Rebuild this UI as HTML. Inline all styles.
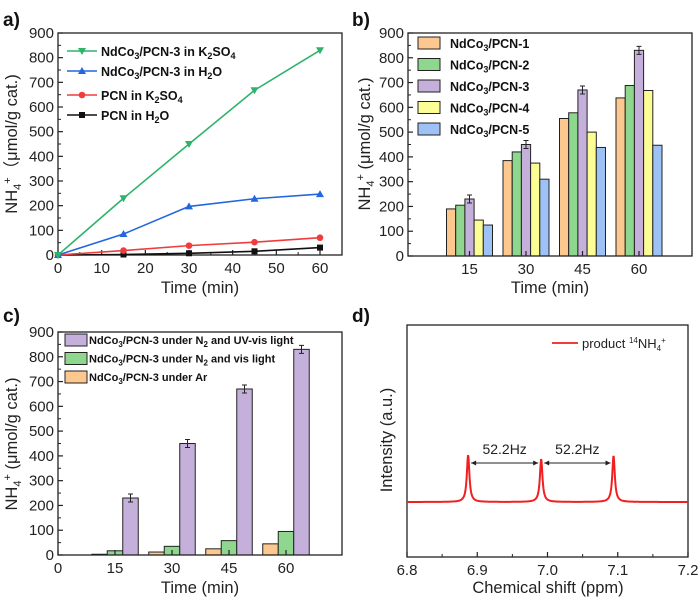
<!DOCTYPE html>
<html><head><meta charset="utf-8">
<style>
body{margin:0;background:#fff;}
svg{display:block;font-family:"Liberation Sans",Arial,sans-serif;}
.tk{font-size:15px;fill:#222;}
.tt{font-size:16.5px;fill:#222;}
.pl{font-size:19px;font-weight:bold;fill:#111;}
.lg{font-size:12.5px;font-weight:bold;fill:#111;}
</style></head>
<body>
<svg id="fig" width="700" height="605" viewBox="0 0 700 605" xmlns="http://www.w3.org/2000/svg"></svg>
<script>
// Panel a data
const aTimes=[0,15,30,45,60];
const aK2SO4Nd=[0,230,450,668,830];
const aH2ONd=[0,85,197,228,247];
const aK2SO4PCN=[0,18,38,52,70];
const aH2OPCN=[0,2,7,15,30];
const yTicks=[0,100,200,300,400,500,600,700,800,900];
const aXTicks=[0,10,20,30,40,50,60];
// Panel b data
const bCats=[15,30,45,60];
const bPCN1=[190,385,555,638];
const bPCN2=[205,420,578,688];
const bPCN3=[230,450,670,830];
const bPCN4=[145,375,500,668];
const bPCN5=[125,310,438,447];
// Panel c data
const cCats=[15,30,45,60];
const cAr=[3,12,25,45];
const cVis=[17,35,58,95];
const cUV=[230,450,670,830];
const cXTicks=[0,15,30,45,60];
// Panel d data
const dPeaks=[6.887,6.991,7.094];
const dHeights=[47,43,46];
const dBaseline=0;
const dXTicks=[6.8,6.9,7.0,7.1,7.2];

const S=document.getElementById('fig');
const NS='http://www.w3.org/2000/svg';
function E(tag,at,parent,txt){const e=document.createElementNS(NS,tag);for(const k in at)e.setAttribute(k,at[k]);if(txt!==undefined)e.innerHTML=txt;(parent||S).appendChild(e);return e;}

function frame(x0,y0,x1,y1,name){
  const r=E('rect',{x:x0,y:y0,width:x1-x0,height:y1-y0,fill:'none',stroke:'#222','stroke-width':1.3});
  
  
}
function yAxis(x0,sy,ticks,name){
  const g=E('g',{});
  
  
  ticks.forEach((v,i)=>{const y=sy(v);
    E('line',{x1:x0,x2:x0+5,y1:y,y2:y,stroke:'#222','stroke-width':1.2},g);
    E('text',{x:x0-4,y:y+5,'text-anchor':'end',class:'tk'},g,v);
    if(i<ticks.length-1){const ym=sy(v+50);E('line',{x1:x0,x2:x0+3,y1:ym,y2:ym,stroke:'#222'},g);}
  });
}
function xAxis(y0,sx,ticks,name,minor,fmt){
  const g=E('g',{});
  
  
  ticks.forEach((v,i)=>{const x=sx(v);
    E('line',{x1:x,x2:x,y1:y0,y2:y0-5,stroke:'#222','stroke-width':1.2},g);
    E('text',{x:x,y:y0+18,'text-anchor':'middle',class:'tk'},g,fmt?fmt(v):v);
    if(minor&&i<ticks.length-1){const xm=sx(v+minor);E('line',{x1:xm,x2:xm,y1:y0,y2:y0-3,stroke:'#222'},g);}
  });
}
function label(x,y,t,name){const e=E('text',{x:x,y:y,class:'pl'},S,t);}
function ytitle(x,y,html,name){const e=E('text',{x:x,y:y,class:'tt','text-anchor':'middle',transform:`rotate(-90 ${x} ${y})`},S,html);}
function xtitle(x,y,t,name){const e=E('text',{x:x,y:y,class:'tt','text-anchor':'middle'},S,t);}
const NH='NH<tspan font-size="11" dy="4">4</tspan><tspan font-size="11" dy="-10">+</tspan><tspan dy="6">';

// ===== Panel a =====
{
const sx=v=>58+v*(262/60), sy=v=>255-v*(222/900);
frame(58,33,342,255,'panel-a-plot-area');
yAxis(58,sy,yTicks,'panel-a-y-axis');
xAxis(255,sx,aXTicks,'panel-a-x-axis',5);
label(3,26,'a)','panel-a-label');
ytitle(17,144,NH+'（μmol/g cat.)</tspan>','panel-a-y-axis-title');
xtitle(200,293,'Time (min)','panel-a-x-axis-title');
const series=[[aH2OPCN,'#111','sq','PCN in H<tspan font-size="9" dy="3">2</tspan><tspan dy="-3">O</tspan>'],
 [aK2SO4PCN,'#f03c3c','ci','PCN in K<tspan font-size="9" dy="3">2</tspan><tspan dy="-3">SO</tspan><tspan font-size="9" dy="3">4</tspan>'],
 [aH2ONd,'#2266e0','up','NdCo<tspan font-size="9" dy="3">3</tspan><tspan dy="-3">/PCN-3 in H</tspan><tspan font-size="9" dy="3">2</tspan><tspan dy="-3">O</tspan>'],
 [aK2SO4Nd,'#2db36a','dn','NdCo<tspan font-size="9" dy="3">3</tspan><tspan dy="-3">/PCN-3 in K</tspan><tspan font-size="9" dy="3">2</tspan><tspan dy="-3">SO</tspan><tspan font-size="9" dy="3">4</tspan>']];
const names=['series-pcn-h2o','series-pcn-k2so4','series-ndco3-h2o','series-ndco3-k2so4'];
function mk(g,t,x,y,c){
  if(t==='sq')E('rect',{x:x-3,y:y-3,width:6,height:6,fill:c},g);
  else if(t==='ci')E('circle',{cx:x,cy:y,r:3.3,fill:c},g);
  else if(t==='up')E('polygon',{points:`${x},${y-4} ${x-4},${y+3} ${x+4},${y+3}`,fill:c},g);
  else E('polygon',{points:`${x},${y+4} ${x-4},${y-3} ${x+4},${y-3}`,fill:c},g);
}
const legY=[115,95,71,51];
series.forEach((s,k)=>{
  const g=E('g',{});
  
  
  E('polyline',{points:aTimes.map((t,i)=>sx(t)+','+sy(s[0][i])).join(' '),fill:'none',stroke:s[1],'stroke-width':1.6},g);
  aTimes.forEach((t,i)=>mk(g,s[2],sx(t),sy(s[0][i]),s[1]));
  const lg=E('g',{});
  
  
  E('line',{x1:67,x2:97,y1:legY[k],y2:legY[k],stroke:s[1],'stroke-width':1.6},lg);
  mk(lg,s[2],82,legY[k],s[1]);
  E('text',{x:101,y:legY[k]+5,class:'lg'},lg,s[3]);
});
}

// ===== Panel b =====
{
const sx=v=>413+v*(56.5/15), sy=v=>256-v*(223/900);
const bw=9.2;
const cols=['#fdc88f','#8fd68f','#c5b0dc','#fdfd96','#9ec2f5'];
const data=[bPCN1,bPCN2,bPCN3,bPCN4,bPCN5];
const labs=['/PCN-1','/PCN-2','/PCN-3','/PCN-4','/PCN-5'];
bCats.forEach((c,i)=>{
  data.forEach((d,k)=>{
    const x=sx(c)-2.5*bw+k*bw, y=sy(d[i]);
    const r=E('rect',{x:x,y:y,width:bw,height:sy(0)-y,fill:cols[k],stroke:'#222','stroke-width':1});
    
    
    if(k===2){const xm=x+bw/2;E('path',{d:`M${xm},${y-4}V${y+4}M${xm-2.5},${y-4}H${xm+2.5}M${xm-2.5},${y+4}H${xm+2.5}`,stroke:'#222','stroke-width':1});}
  });
});
frame(408,33,692,256,'panel-b-plot-area');
yAxis(408,sy,yTicks,'panel-b-y-axis');
const g=E('g',{});
bCats.forEach(c=>{E('line',{x1:sx(c),x2:sx(c),y1:256,y2:251,stroke:'#222','stroke-width':1.2},g);E('text',{x:sx(c),y:274,'text-anchor':'middle',class:'tk'},g,c);});
label(352,26,'b)','panel-b-label');
ytitle(370,144,NH+' (μmol/g cat.)</tspan>','panel-b-y-axis-title');
xtitle(550,293,'Time (min)','panel-b-x-axis-title');
labs.forEach((l,k)=>{
  const y=43+k*21.5;
  const lg=E('g',{});
  
  
  E('rect',{x:418,y:y-6,width:22,height:12,fill:cols[k],stroke:'#222'},lg);
  E('text',{x:450,y:y+5,class:'lg'},lg,'NdCo<tspan font-size="9" dy="3">3</tspan><tspan dy="-3">'+l+'</tspan>');
});
}

// ===== Panel c =====
{
const sx=v=>58+v*(57/15), sy=v=>555-v*(223/900);
const bw=15.5;
const cols=['#fdc88f','#8fd68f','#c5b0dc'];
const data=[cAr,cVis,cUV];
cCats.forEach((c,i)=>{
  data.forEach((d,k)=>{
    const x=sx(c)-1.5*bw+k*bw, y=sy(d[i]);
    const r=E('rect',{x:x,y:y,width:bw,height:sy(0)-y,fill:cols[k],stroke:'#222','stroke-width':1});
    
    
    if(k===2){const xm=x+bw/2;E('path',{d:`M${xm},${y-4}V${y+4}M${xm-2.5},${y-4}H${xm+2.5}M${xm-2.5},${y+4}H${xm+2.5}`,stroke:'#222','stroke-width':1});}
  });
});
frame(58,332,342,555,'panel-c-plot-area');
yAxis(58,sy,yTicks,'panel-c-y-axis');
xAxis(555,sx,cXTicks,'panel-c-x-axis',0);
label(3,322,'c)','panel-c-label');
ytitle(17,444,NH+' (μmol/g cat.)</tspan>','panel-c-y-axis-title');
xtitle(200,593,'Time (min)','panel-c-x-axis-title');
const labs=['NdCo<tspan font-size="8" dy="3">3</tspan><tspan dy="-3">/PCN-3 under N</tspan><tspan font-size="8" dy="3">2</tspan><tspan dy="-3"> and UV-vis light</tspan>',
 'NdCo<tspan font-size="8" dy="3">3</tspan><tspan dy="-3">/PCN-3 under N</tspan><tspan font-size="8" dy="3">2</tspan><tspan dy="-3"> and vis light</tspan>',
 'NdCo<tspan font-size="8" dy="3">3</tspan><tspan dy="-3">/PCN-3 under Ar</tspan>'];
const lc=[cols[2],cols[1],cols[0]];
labs.forEach((l,k)=>{
  const y=340+k*18.5;
  const lg=E('g',{});
  
  
  E('rect',{x:65,y:y-6,width:22,height:12,fill:lc[k],stroke:'#222'},lg);
  E('text',{x:89,y:y+4,class:'lg',style:'font-size:11px'},lg,l);
});
}

// ===== Panel d =====
{
const sx=v=>407+(v-6.8)*(281/0.4), sy=v=>502-v;
frame(407,325,688,557,'panel-d-plot-area');
xAxis(557,sx,dXTicks,'panel-d-x-axis',0.05,v=>v.toFixed(1));
label(352,322,'d)','panel-d-label');
ytitle(392,440,'Intensity (a.u.)','panel-d-y-axis-title');
xtitle(548,593,'Chemical shift (ppm)','panel-d-x-axis-title');
const pts=[];
for(let i=0;i<=700;i++){const x=6.8+i*0.4/700;let y=dBaseline;
  dPeaks.forEach((p,k)=>{const w=0.0022;y+=dHeights[k]*w*w/((x-p)*(x-p)+w*w);});
  pts.push(sx(x).toFixed(2)+','+sy(y).toFixed(2));}
const sp=E('polyline',{points:pts.join(' '),fill:'none',stroke:'#f02020','stroke-width':2});


const ay=463;
[[0,1],[1,2]].forEach(([a,b],k)=>{
  const x1=sx(dPeaks[a])+3,x2=sx(dPeaks[b])-3;
  const g=E('g',{});
  
  
  E('line',{x1:x1,x2:x2,y1:ay,y2:ay,stroke:'#222','stroke-width':1},g);
  E('polygon',{points:`${x1},${ay} ${x1+5},${ay-2.5} ${x1+5},${ay+2.5}`,fill:'#222'},g);
  E('polygon',{points:`${x2},${ay} ${x2-5},${ay-2.5} ${x2-5},${ay+2.5}`,fill:'#222'},g);
  E('text',{x:(x1+x2)/2,y:ay-9,'text-anchor':'middle',style:'font-size:14px;fill:#222'},g,'52.2Hz');
});
const lg=E('g',{});


E('line',{x1:552,x2:578,y1:343,y2:343,stroke:'#f02020','stroke-width':1.8},lg);
E('text',{x:582,y:348,style:'font-size:13px;fill:#222'},lg,'product <tspan font-size="8" dy="-5">14</tspan><tspan dy="5">NH</tspan><tspan font-size="8" dy="3">4</tspan><tspan font-size="8" dy="-8">+</tspan>');
}
</script>
</body></html>
